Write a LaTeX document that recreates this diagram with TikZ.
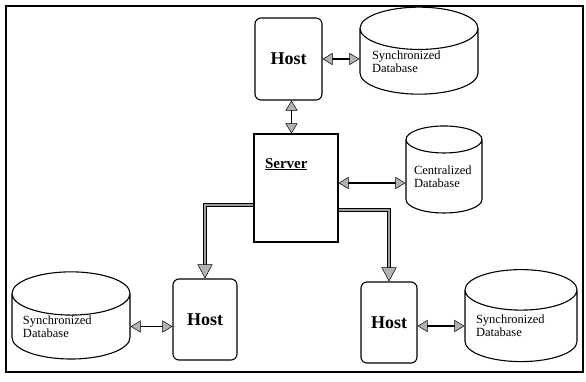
\documentclass[tikz,border=0pt]{standalone}
\usepackage{fontspec}
\setmainfont{Liberation Serif}
\usetikzlibrary{arrows.meta}
\usetikzlibrary{shapes.geometric}
\usetikzlibrary{positioning}

\begin{document}
\begin{tikzpicture}[x=1pt, y=-1pt,
    host/.style={draw, line width=1.1pt, rounded corners=6pt, inner sep=0pt,
      font=\fontsize{18}{20}\selectfont\bfseries},
    dbase/.style={draw, line width=1.1pt, cylinder, shape border rotate=90, aspect=0.45,
      inner sep=0pt, align=left, font=\fontsize{12.5}{13}\selectfont},
    serverbox/.style={draw, line width=1.1pt, inner xsep=11pt, inner ysep=0pt, align=left,
      text width=62pt, text height=34pt, text depth=74pt,
      font=\fontsize{15}{17}\selectfont\bfseries},
    biarrow/.style={line width=1.4pt,
      {Triangle[length=10pt, width=12pt, fill=gray!60, line width=0.5pt]}-{Triangle[length=10pt, width=12pt, fill=gray!60, line width=0.5pt]}},
    feed/.style={line width=0.8pt, double=gray!75, double distance=1.8pt,
      -{Triangle[length=14pt, width=15pt, fill=gray!60, line width=0.5pt]}}]
  \useasboundingbox (0,0) rectangle (586,381);
  \draw [line width=1.4pt] (6,6) rectangle (583,372);

  \node [host, minimum width=67pt, minimum height=82pt] (hostT) at (288.5,59) {Host};
  \node [dbase, minimum width=118pt, minimum height=87pt, text width=94pt] (dbT) at (419,61.5) {Synchronized\\Database};
  \node [serverbox] (server) at (296,188) {\underline{Server}};
  \node [dbase, minimum width=76pt, minimum height=87pt, text width=60pt] (dbC) at (444,176.5) {Centralized\\Database};

  \node [host, minimum width=64pt, minimum height=81pt] (hostL) at (205,319.5) {Host};
  \node [dbase, minimum width=118pt, minimum height=83pt, text width=96pt] (dbL) at (71,326.5) {Synchronized\\Database};
  \node [host, minimum width=56pt, minimum height=81pt] (hostR) at (389,322.5) {Host};
  \node [dbase, minimum width=112pt, minimum height=92pt, text width=90pt] (dbR) at (521,326) {Synchronized\\Database};

  \draw [biarrow] (hostT.east) -- (hostT.east -| dbT.west);
  \draw [biarrow] ([xshift=3pt]hostT.south) -- ([xshift=3pt]hostT.south |- server.north);
  \draw [biarrow] ([yshift=5pt]server.east) -- ([yshift=5pt]server.east -| dbC.west);
  \draw [biarrow] (dbL.east) -- (dbL.east -| hostL.west);
  \draw [biarrow] (dbR.west -| hostR.east) -- (dbR.west);

  \draw [feed] ([yshift=-17pt]server.west) -| (hostL.north);
  \draw [feed] ([yshift=-22pt]server.east) -| (hostR.north);
\end{tikzpicture}
\end{document}
